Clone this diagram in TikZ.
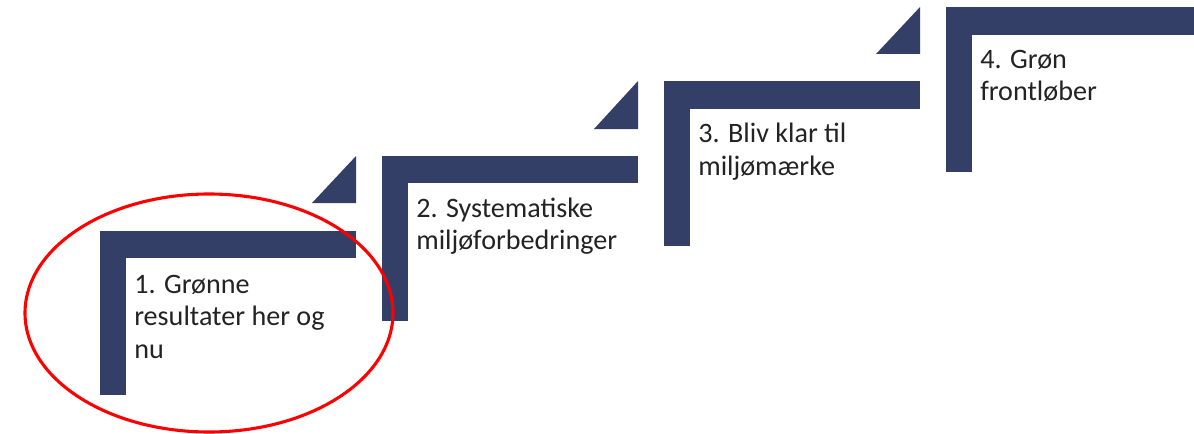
\documentclass[tikz,border=0pt]{standalone}
\usepackage{fontspec}
\setmainfont{Carlito}
\usepackage{tikz}
\definecolor{stepblue}{RGB}{52,63,104}
\definecolor{steptext}{RGB}{35,35,35}
\tikzset{
  stepbar/.style={fill=stepblue},
  steplabel/.style={anchor=base west,inner sep=0pt,align=left,text=steptext,
    font=\fontsize{20}{23.1}\selectfont}
}

\begin{document}
\begin{tikzpicture}[line cap=round,line join=round,x=0.025cm,y=-0.025cm]
\useasboundingbox (0,0) rectangle (1194,433);
% trin 1
\fill[stepbar] (100,231) rectangle (126,395);
\fill[stepbar] (100,231) rectangle (356,258);
\fill[stepbar] (312,203)--(356,203)--(356,156)--cycle;
\node[steplabel] (trin1) at (134,358) {1. Grønne\\resultater her og\\nu};
% trin 2
\fill[stepbar] (382,156) rectangle (408,321);
\fill[stepbar] (382,156) rectangle (638,183);
\fill[stepbar] (594,129)--(638,129)--(638,81)--cycle;
\node[steplabel] (trin2) at (416,249.5) {2. Systematiske\\miljøforbedringer};
% trin 3
\fill[stepbar] (664,81) rectangle (690,246);
\fill[stepbar] (664,81) rectangle (920,109);
\fill[stepbar] (876,54)--(920,54)--(920,7)--cycle;
\node[steplabel] (trin3) at (698,175) {3. Bliv klar til\\miljømærke};
% trin 4
\fill[stepbar] (946,7) rectangle (972,172);
\fill[stepbar] (946,7) rectangle (1194,35);
\node[steplabel] (trin4) at (980,101) {4. Grøn\\frontløber};
% markering
\draw[red,line width=2.2pt] (209,313) ellipse (184 and 119);
\end{tikzpicture}
\end{document}
